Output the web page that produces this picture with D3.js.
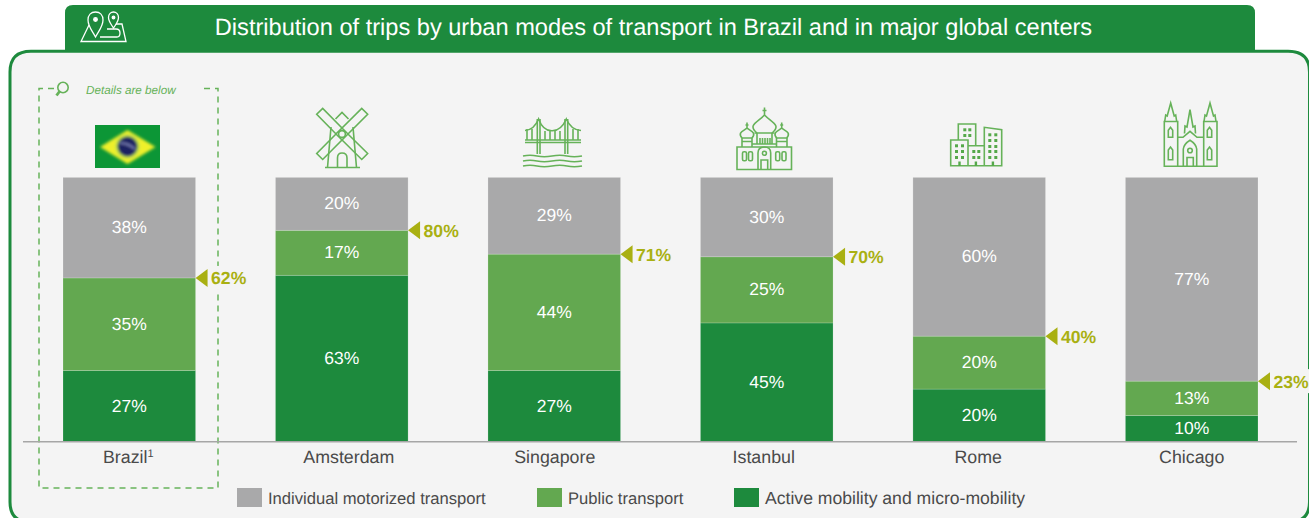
<!DOCTYPE html>
<html><head><meta charset="utf-8">
<script src="https://cdn.jsdelivr.net/npm/d3@7"></script>
<style>
html,body{margin:0;padding:0;background:#fff;overflow:hidden}
svg{display:block}
text{font-family:"Liberation Sans",Arial,sans-serif;text-rendering:geometricPrecision}
</style></head><body><div id="c"></div>
<script>
const title = "Distribution of trips by urban modes of transport in Brazil and in major global centers";
const cities = ["Brazil","Amsterdam","Singapore","Istanbul","Rome","Chicago"];
const activeMobility = [27,63,27,45,20,10];
const publicTransport = [35,17,44,25,20,13];
const individualMotorized = [38,20,29,30,60,77];
const sustainableTotals = [62,80,71,70,40,23];
const seriesNames = ["Individual motorized transport","Public transport","Active mobility and micro-mobility"];
const noteText = "Details are below";

const C={dark:"#1d8a3d",mid:"#63a850",gray:"#a9a9aa",olive:"#a9b012",icon:"#66b259",panel:"#f4f4f4",txt:"#4a4a4a"};
const W=1309,H=518;
const tickNudge=[-1,7,0.5,-3,-1,0];
const legendX=[237,537,734], legendSize=[16.6,16.6,17.6];
const svg=d3.select("#c").append("svg").attr("width",W).attr("height",H);
const defs=svg.append("defs");
defs.append("filter").attr("id","blur").attr("x","-10%").attr("y","-10%").attr("width","120%").attr("height","120%")
  .append("feGaussianBlur").attr("stdDeviation",1.6);
defs.append("clipPath").attr("id","flagclip").append("rect").attr("x",95).attr("y",125).attr("width",65).attr("height",43);

// panel and title tab
svg.append("path").attr("d","M30,522 H1289 Q1309.5,522 1309.5,502 V72 Q1309.5,51.3 1288,51.3 H31 Q10,51.3 10,72 V502 Q10,522 30,522 Z")
  .attr("fill",C.panel).attr("stroke",C.dark).attr("stroke-width",3);
svg.append("path").attr("d","M65,52 V13 Q65,5 73,5 H1247 Q1255,5 1255,13 V52 Z").attr("fill",C.dark);
svg.append("text").attr("x",653.5).attr("y",35).attr("text-anchor","middle").attr("font-size",23.6).attr("fill","#fff").text(title);

// scales
const x=d3.scaleBand().domain(cities).range([63,1258]).paddingInner(0.376).paddingOuter(0);
const y=d3.scaleLinear().domain([0,100]).range([442,177.4]);
const color=d3.scaleOrdinal().domain(seriesNames).range([C.gray,C.mid,C.dark]);

const rows=cities.map((c,i)=>({city:c,active:activeMobility[i],pub:publicTransport[i],ind:individualMotorized[i],total:sustainableTotals[i]}));
const stack=d3.stack().keys(["active","pub","ind"])(rows);
const keyName={active:seriesNames[2],pub:seriesNames[1],ind:seriesNames[0]};

// dashed box
svg.append("path").attr("d","M204,88.5 H218 V488 H39 V88.5 H55").attr("fill","none").attr("stroke",C.icon).attr("stroke-width",1.5).attr("stroke-dasharray","6 5");
svg.append("text").attr("x",86).attr("y",94).attr("font-size",11.7).attr("font-style","italic").attr("fill",C.icon).text(noteText);

const layers=svg.append("g").selectAll("g").data(stack).join("g").attr("fill",d=>color(keyName[d.key]));
layers.selectAll("rect").data(d=>d).join("rect")
  .attr("x",d=>x(d.data.city)).attr("width",x.bandwidth())
  .attr("y",d=>y(d[1])).attr("height",d=>y(d[0])-y(d[1]))
  .attr("stroke","#fff").attr("stroke-opacity",0.22).attr("stroke-width",0.8);
const labs=svg.append("g").selectAll("g").data(stack).join("g");
labs.selectAll("text").data(d=>d.map(e=>({e,k:d.key}))).join("text")
  .attr("x",d=>x(d.e.data.city)+x.bandwidth()/2)
  .attr("y",d=>(y(d.e[0])+y(d.e[1]))/2+5.5)
  .attr("text-anchor","middle").attr("font-size",17.5).attr("fill","#fff")
  .text(d=>d.e.data[d.k]+"%");

// totals
const tot=svg.append("g").selectAll("g").data(rows).join("g")
  .attr("transform",d=>`translate(${x(d.city)+x.bandwidth()},${y(d.total)})`);
tot.append("rect").attr("x",14).attr("y",-12).attr("width",40).attr("height",24).attr("fill",C.panel);
tot.append("path").attr("d","M0,0 L12,-9 V9 Z").attr("fill",C.olive);
tot.append("text").attr("x",15.5).attr("y",6.5).attr("font-size",17.6).attr("font-weight","bold").attr("fill",C.olive).text(d=>d.total+"%");

// axis
const axis=svg.append("g").attr("transform","translate(0,441.5)").call(d3.axisBottom(x).tickSize(0).tickPadding(7));
axis.select(".domain").remove();
axis.selectAll("text").attr("font-size",17.8).attr("fill",C.txt).attr("font-family",'"Liberation Sans",Arial,sans-serif').attr("dy","0.84em")
  .attr("dx",(d,i)=>tickNudge[i]);
axis.selectAll("text").filter(d=>d==="Brazil").append("tspan").attr("font-size",11).attr("dy",-6).text("1");
svg.append("line").attr("x1",23).attr("x2",1297).attr("y1",441.8).attr("y2",441.8).attr("stroke","#a6a6a6").attr("stroke-width",1.5);

const ic=svg.append("g").attr("fill","none").attr("stroke",C.icon).attr("stroke-width",1.6);
ic.append("circle").attr("cx",63).attr("cy",87.5).attr("r",5.2);
ic.append("path").attr("d","M59.5,91.5 L56.5,95.5").attr("stroke-width",2.8);

// flag
const fl=svg.append("g").attr("clip-path","url(#flagclip)");
fl.append("rect").attr("x",95).attr("y",125).attr("width",65).attr("height",43).attr("fill","#0c9636");
const fb=fl.append("g").attr("filter","url(#blur)");
fb.append("path").attr("d","M100,147 L127.5,130 L155.5,147 L127.5,164 Z").attr("fill","#eef02a");
fb.append("circle").attr("cx",127.5).attr("cy",146.5).attr("r",12).attr("fill","#b9e04a");
fb.append("circle").attr("cx",127.5).attr("cy",146.5).attr("r",10).attr("fill","#1b2462");
fb.append("path").attr("d","M120,143 Q128,143 135,149").attr("stroke","#8d93c8").attr("stroke-width",1.6).attr("fill","none");

// windmill
const arm=(a,b)=>{const dx=b[0]-a[0],dy=b[1]-a[1],l=Math.hypot(dx,dy),nx=-dy/l*4.2,ny=dx/l*4.2;
  return `M${a[0]+nx},${a[1]+ny}L${b[0]+nx},${b[1]+ny}L${b[0]-nx},${b[1]-ny}L${a[0]-nx},${a[1]-ny}Z`;};
const mill=ic.append("g");
[[[339,131],[319.7,111.3]],[[345,131],[364.7,111.3]],[[339,137],[319.7,156.5]],[[345,137],[364.7,156.5]]].forEach(s=>mill.append("path").attr("d",arm(s[0],s[1])));
mill.append("circle").attr("cx",342).attr("cy",134).attr("r",3.4);
mill.append("path").attr("d","M335.5,119 L342,112.5 L348.5,119 M331,127 L327.5,167.5 M353,127 L356.5,167.5 M325,167.5 H360 M337.5,167.5 V158 Q337.5,153 342,153 Q347,153 347,158 V167.5");

// bridge
const br=ic.append("g");
br.append("path").attr("d","M525,140 H581 M525,142.5 H581 M537.3,119 V154 M540,119 V154 M565,119 V154 M567.7,119 V154");
br.append("path").attr("d","M525,130.5 Q534,130 538.6,119 Q543,131 552,130.8 Q561,131 566.3,119 Q571,130 581,130.5");
[527,532,545,550,555,560,573,578].forEach(h=>br.append("path").attr("d",`M${h},${h<537||h>570?129:131} V140`));
[156,161,166].forEach(w=>br.append("path").attr("d",`M523,${w} Q530,${w-1.5} 537,${w} T552,${w} T567,${w} T582,${w}`));

// Istanbul mosque
const ist=ic.append("g");
ist.append("path").attr("d","M737,147 H791.5 V169.5 H737 Z M742,147 V138 H752 V147 M776.5,147 V138 H787 V147 M742,141.5 H752 M776.5,141.5 H787 M752,144 H776.5 M757,144 V133 M772,144 V133 M754.5,133 H774.5");
ist.append("path").attr("d","M757,133 C747,125 758,122 764.5,115 C771,122 782,125 772,133 M764.5,115 V107.5 M762.5,110.5 H766.5");
[747,781.7].forEach(c=>ist.append("path").attr("d",`M${c-5},138 C${c-10},132 ${c-3},131 ${c},128 C${c+3},131 ${c+10},132 ${c+5},138 M${c},128 V122.5 M${c-1.5},125 H${c+1.5}`));
[742.5,748.5,775.7,782].forEach(c=>ist.append("rect").attr("x",c).attr("y",151.7).attr("width",4).attr("height",9).attr("rx",1.5));
ist.append("path").attr("d","M758,169.5 V153 Q758,147 764.4,147 Q770.7,147 770.7,153 V169.5 M761,169.5 V160 H767.7 V169.5");
ist.append("circle").attr("cx",764.4).attr("cy",153.3).attr("r",2);
[760,762.5,765,767.5,770].forEach(c=>ist.append("path").attr("d",`M${c},138 V144`));

// Rome buildings
const ro=ic.append("g");
ro.append("path").attr("d","M950.7,140 H968 V165.7 H950.7 Z M958.3,140 V124 H975.7 V145.7 M968,145.7 H984.3 V165.7 H968 M984.3,165.7 V127.3 L1001.7,129.7 V165.7 H984.3");
const dot=(xs,ys)=>xs.forEach(a=>ys.forEach(b=>ro.append("rect").attr("x",a).attr("y",b).attr("width",3).attr("height",3).attr("fill","#55a84a").attr("stroke","none")));
dot([963.3,968.3],[128.3,134]);dot([955,961],[144.3,150,156]);dot([972.3,977.3],[150,156]);dot([988.3,994.3],[133.3,139,145,150,156]);
[958.3,974.7,991.7].forEach(c=>ro.append("rect").attr("x",c).attr("y",161.5).attr("width",2.4).attr("height",4.5).attr("fill","#55a84a").attr("stroke","none"));

// Chicago cathedral
const ch=ic.append("g");
ch.append("path").attr("d","M1164.3,166.3 V121.5 H1177.7 V166.3 Z M1203.7,166.3 V121.5 H1217 V166.3 Z M1164.3,166.3 H1217 M1177.7,137.3 H1183 L1190,131.3 L1197,137.3 H1203.7");
[1170.7,1210].forEach(c=>ch.append("path").attr("d",`M${c-6},121.5 L${c-5},115 L${c-3.5},116 L${c},103 L${c+3.5},116 L${c+5},115 L${c+6},121.5`));
ch.append("path").attr("d","M1184.5,133.5 L1185,126 L1187,127 L1190,109.7 L1193,127 L1195,126 L1195.5,133.5");
ch.append("path").attr("d","M1183.3,166.3 V149 Q1184,144 1190,140.3 Q1196,144 1196.7,149 V166.3 M1187,166.3 V157.5 H1193.3 V166.3");
ch.append("circle").attr("cx",1190).attr("cy",150.5).attr("r",2.3);
[1170.5,1209.5].forEach(c=>[[127.3,137.3],[147,159.7]].forEach(t=>ch.append("path").attr("d",`M${c-2.2},${t[1]} V${t[0]+3} L${c},${t[0]} L${c+2.2},${t[0]+3} V${t[1]} Z`)));

// map icon in tab
const mp=svg.append("g").attr("fill","none").attr("stroke","#fff").attr("stroke-width",1.3);
mp.append("path").attr("d","M89,25 L81,41.5 H126 L122,24 H116 M100,37 H117 Q120,37 120,33 Q120,29 116,29 H107");
mp.append("path").attr("d","M95.5,37 C91,29 88,26 88,20 C88,15 91,12 95.5,12 C100,12 103,15 103,20 C103,26 100,29 95.5,37 Z");
mp.append("path").attr("d","M113.5,28 C111,24 108.5,21.5 108.5,17.5 C108.5,14 111,12 113.5,12 C116,12 118.5,14 118.5,17.5 C118.5,21.5 116,24 113.5,28 Z");
mp.append("circle").attr("cx",95.5).attr("cy",19.5).attr("r",1.8).attr("fill","#fff");
mp.append("circle").attr("cx",113.5).attr("cy",17.5).attr("r",1.3).attr("fill","#fff");

// legend
const lg=svg.append("g").selectAll("g").data(seriesNames).join("g").attr("transform",(d,i)=>`translate(${legendX[i]},488)`);
lg.append("rect").attr("width",25).attr("height",19).attr("fill",d=>color(d));
lg.append("text").attr("x",31).attr("y",16).attr("font-size",(d,i)=>legendSize[i]).attr("fill",C.txt).text(d=>d);
</script></body></html>
